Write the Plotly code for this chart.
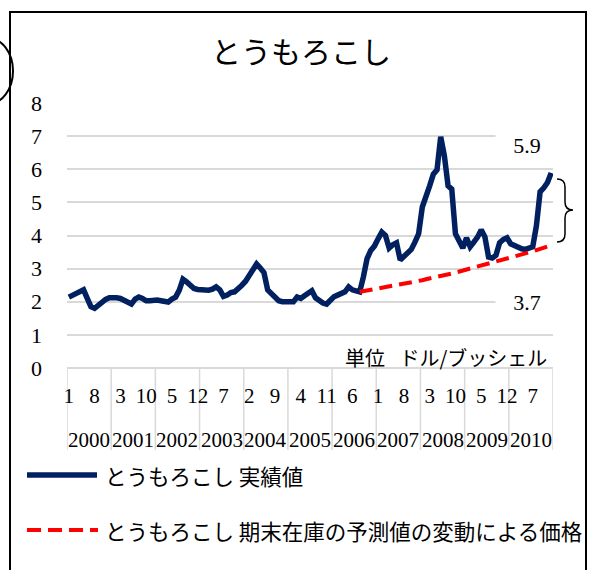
import plotly.graph_objects as go

# ---------------- data ----------------
years = ["2000", "2001", "2002", "2003", "2004", "2005", "2006", "2007", "2008", "2009", "2010"]
months = [m for _ in years for m in range(1, 13)]

actual = [
    2.14, 2.20, 2.25, 2.28, 2.36, 2.10, 1.85, 1.80, 1.90, 2.00, 2.07, 2.12,   # 2000
    2.14, 2.12, 2.10, 2.05, 1.97, 1.93, 2.08, 2.14, 2.10, 2.03, 2.03, 2.05,   # 2001
    2.05, 2.03, 2.00, 1.99, 2.08, 2.14, 2.35, 2.68, 2.60, 2.48, 2.40, 2.37,   # 2002
    2.36, 2.34, 2.35, 2.38, 2.45, 2.36, 2.16, 2.20, 2.28, 2.30, 2.38, 2.50,   # 2003
    2.62, 2.78, 2.95, 3.14, 3.02, 2.88, 2.36, 2.25, 2.12, 2.03, 2.00, 2.00,   # 2004
    2.00, 2.00, 2.14, 2.10, 2.18, 2.25, 2.33, 2.12, 2.02, 1.96, 1.93, 2.05,   # 2005
    2.15, 2.20, 2.24, 2.30, 2.45, 2.36, 2.33, 2.30, 2.75, 3.30, 3.55, 3.68,   # 2006
    3.90, 4.10, 4.00, 3.62, 3.72, 3.78, 3.26, 3.35, 3.47, 3.58, 3.80, 4.05,   # 2007
    4.86, 5.15, 5.50, 5.85, 5.98, 6.98, 6.40, 5.50, 5.40, 4.05, 3.80, 3.62,   # 2008
    3.93, 3.66, 3.80, 3.95, 4.17, 3.96, 3.35, 3.32, 3.40, 3.78, 3.88, 3.93,   # 2009
    3.75, 3.70, 3.62, 3.60, 3.58, 3.62, 3.66, 4.30, 5.32, 5.44, 5.60, 5.89,   # 2010
]

forecast_start = 79  # Aug 2006
forecast_values = [
    2.30, 2.32, 2.34, 2.36, 2.37, 2.39, 2.41, 2.43, 2.45, 2.47,
    2.50, 2.52, 2.54, 2.56, 2.58, 2.61, 2.63, 2.65, 2.68, 2.70,
    2.73, 2.75, 2.78, 2.80, 2.83, 2.85, 2.88, 2.91, 2.93, 2.96,
    2.99, 3.02, 3.05, 3.08, 3.11, 3.14, 3.17, 3.20, 3.23, 3.26,
    3.29, 3.32, 3.36, 3.39, 3.42, 3.46, 3.49, 3.52, 3.56, 3.59,
    3.63, 3.66, 3.70,
]
forecast = [None] * forecast_start + forecast_values

y_ticks = [0, 1, 2, 3, 4, 5, 6, 7, 8]
label_latest = "5.9"
label_forecast = "3.7"

name_actual = "とうもろこし 実績値"
name_forecast = "とうもろこし 期末在庫の予測値の変動による価格"
title_text = "とうもろこし"
unit_text = "単位\u2002 ドル/ブッシェル"

# ---------------- layout helpers ----------------
W, H = 589, 570
L, R, T, B = 67, 553, 103, 368


def px(x):
    return (x - L) / (R - L)


def py(y):
    return (B - y) / (B - T)


SERIF = "Liberation Serif, Times New Roman, serif"
JP = "Noto Sans CJK JP, sans-serif"
NAVY = "#002060"
RED = "#FF0000"
GRID = "#D9D9D9"

x_idx = list(range(len(actual)))
tickvals = list(range(0, len(actual), 7))
ticktext = [str(months[i]) for i in tickvals]

fig = go.Figure()
fig.add_trace(go.Scatter(x=x_idx, y=actual, mode="lines", name=name_actual,
                         line=dict(color=NAVY, width=5.5), showlegend=False))
fig.add_trace(go.Scatter(x=x_idx, y=forecast, mode="lines", name=name_forecast,
                         line=dict(color=RED, width=4, dash="13px,7px"), showlegend=False))

shapes = []
annotations = []


def note(x, y, text, font, xanchor="center", xref="paper", **kw):
    annotations.append(dict(x=x, y=y, xref=xref, yref="paper", text=text, showarrow=False,
                            xanchor=xanchor, yanchor="middle", font=font, **kw))


# outer chart border
shapes.append(dict(type="rect", xref="paper", yref="paper",
                   x0=px(10), x1=px(586), y0=py(590), y1=py(12),
                   line=dict(color="black", width=2), layer="below"))
# partial ellipse at left edge
shapes.append(dict(type="circle", xref="paper", yref="paper",
                   x0=px(-37), x1=px(13), y0=py(104), y1=py(38),
                   line=dict(color="black", width=2)))

# year separators
for k in range(len(years) + 1):
    shapes.append(dict(type="line", xref="x", yref="paper",
                       x0=12 * k - 0.5, x1=12 * k - 0.5, y0=0, y1=py(450),
                       line=dict(color=GRID, width=1.5), layer="below"))
# year labels
for k, yr in enumerate(years):
    note(12 * k + 5.5, py(440), yr, dict(family=SERIF, size=21, color="black"), xref="x")

# brace
bp = [(557, 179), (565, 179), (565, 187), (565, 202), (565, 210), (573, 210),
      (565, 210), (565, 218), (565, 234), (565, 242), (557, 242)]
P = [(px(a), py(b)) for a, b in bp]
path = (f"M{P[0][0]},{P[0][1]} Q{P[1][0]},{P[1][1]} {P[2][0]},{P[2][1]} "
        f"L{P[3][0]},{P[3][1]} Q{P[4][0]},{P[4][1]} {P[5][0]},{P[5][1]} "
        f"Q{P[6][0]},{P[6][1]} {P[7][0]},{P[7][1]} L{P[8][0]},{P[8][1]} "
        f"Q{P[9][0]},{P[9][1]} {P[10][0]},{P[10][1]}")
shapes.append(dict(type="path", xref="paper", yref="paper", path=path,
                   line=dict(color="black", width=1.5)))

# value labels
note(px(527), py(145), label_latest, dict(family=SERIF, size=22, color="black"),
     bgcolor="white", width=60, height=30)
note(px(527), py(302), label_forecast, dict(family=SERIF, size=22, color="black"),
     bgcolor="white", width=60, height=30)

# unit
note(px(549), py(357), unit_text, dict(family=JP, size=20, color="black"), xanchor="right")

# custom legend
shapes.append(dict(type="line", xref="paper", yref="paper",
                   x0=px(27), x1=px(97), y0=py(475), y1=py(475),
                   line=dict(color=NAVY, width=5.5)))
shapes.append(dict(type="line", xref="paper", yref="paper",
                   x0=px(27), x1=px(98), y0=py(530), y1=py(530),
                   line=dict(color=RED, width=4, dash="14px,7px")))
note(px(103), py(475), name_actual, dict(family=JP, size=21.5, color="black"), xanchor="left")
note(px(103), py(530), name_forecast, dict(family=JP, size=21.5, color="black"), xanchor="left")

fig.update_layout(
    width=W, height=H,
    margin=dict(l=L, r=W - R, t=T, b=H - B, pad=0),
    paper_bgcolor="white", plot_bgcolor="white",
    title=dict(text=title_text, xref="container", x=301 / W, xanchor="center",
               yref="container", y=1 - 52 / H, yanchor="middle",
               font=dict(family=JP, size=30, color="black")),
    showlegend=False,
    shapes=shapes, annotations=annotations,
    xaxis=dict(range=[-0.5, len(actual) - 0.5], tickmode="array",
               tickvals=tickvals, ticktext=ticktext, showgrid=False, zeroline=False,
               showline=False, ticks="", ticklabelstandoff=13,
               tickfont=dict(family=SERIF, size=21, color="black")),
    yaxis=dict(range=[0, 8], tickmode="array", tickvals=y_ticks, showgrid=True,
               gridcolor=GRID, gridwidth=1.5, zeroline=True, zerolinecolor=GRID,
               zerolinewidth=1.5, showline=False, ticks="", ticklabelstandoff=24,
               tickfont=dict(family=SERIF, size=22, color="black")),
)

fig.write_html("out.html", config={"displayModeBar": False},
               post_script="document.body.style.margin='0';")
